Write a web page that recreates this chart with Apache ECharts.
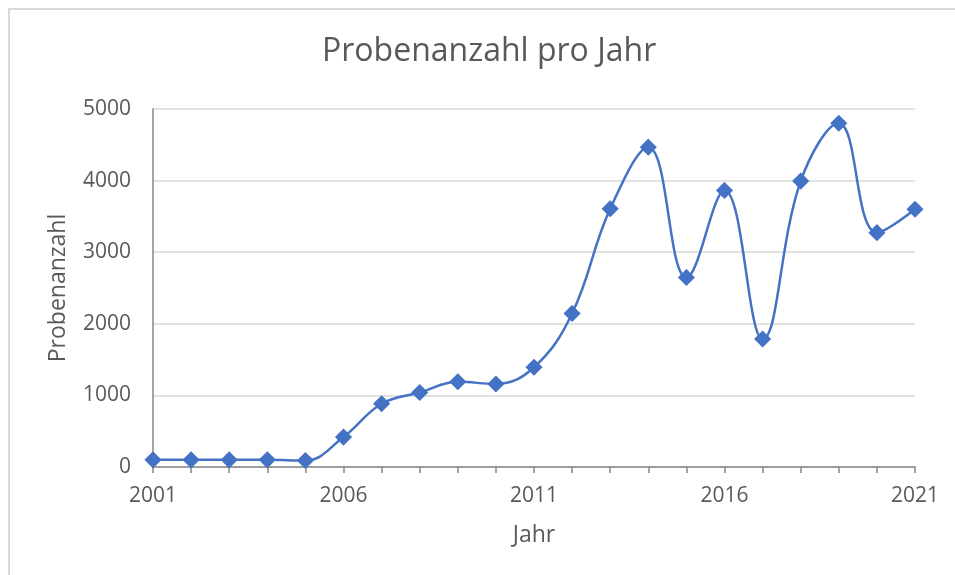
<!DOCTYPE html>
<html>
<head>
<meta charset="utf-8">
<title>Probenanzahl pro Jahr</title>
<script src="https://cdn.jsdelivr.net/npm/echarts@6/dist/echarts.min.js"></script>
<style>
  html, body { margin: 0; padding: 0; background: #fff; }
  #chart { width: 955px; height: 575px; }
</style>
</head>
<body>
<div id="chart"></div>
<script>
  // Jahre und Probenanzahl
  var years = ['2001', '2002', '2003', '2004', '2005', '2006', '2007', '2008', '2009', '2010', '2011',
    '2012', '2013', '2014', '2015', '2016', '2017', '2018', '2019', '2020', '2021'];
  var samples = [100, 100, 100, 100, 90, 418, 883, 1040, 1190, 1160, 1393,
    2145, 3607, 4467, 2646, 3863, 1788, 3993, 4801, 3273, 3599];

  var TEXT = '#595959';
  var BLUE = '#4472C4';
  var FONT = '"Open Sans", sans-serif';

  var chart = echarts.init(document.getElementById('chart'), null, { renderer: 'canvas' });

  chart.setOption({
    animation: false,
    backgroundColor: '#fff',
    title: {
      text: 'Probenanzahl pro Jahr',
      left: 317,
      top: 31,
      textStyle: { color: TEXT, fontFamily: FONT, fontSize: 32, fontWeight: 'normal' }
    },
    graphic: [
      {
        // Rahmen: nur oben und links sichtbar
        type: 'rect',
        shape: { x: 9, y: 9, width: 1000, height: 1000 },
        style: { fill: 'none', stroke: '#d9d9d9', lineWidth: 2 },
        silent: true
      }
    ],
    grid: { left: 153, right: 40, top: 109, bottom: 108 },
    xAxis: {
      type: 'category',
      data: years,
      boundaryGap: false,
      name: 'Jahr',
      nameLocation: 'middle',
      nameGap: 57,
      nameTextStyle: { color: TEXT, fontFamily: FONT, fontSize: 23 },
      axisLine: { lineStyle: { color: '#868686', width: 1.5 } },
      axisTick: { show: true, interval: 0, length: 6, lineStyle: { color: '#868686', width: 1.5 } },
      axisLabel: { interval: 4, color: TEXT, fontFamily: FONT, fontSize: 21, margin: 19 },
      splitLine: { show: false }
    },
    yAxis: {
      type: 'value',
      min: 0,
      max: 5000,
      interval: 1000,
      name: 'Probenanzahl',
      nameLocation: 'middle',
      nameGap: 83,
      nameTextStyle: { color: TEXT, fontFamily: FONT, fontSize: 23 },
      axisLine: { show: true, lineStyle: { color: '#868686', width: 1.5 } },
      axisTick: { show: false },
      axisLabel: {
        color: TEXT, fontFamily: FONT, fontSize: 21, margin: 22,
        formatter: function (v) { return String(v); }
      },
      splitLine: { lineStyle: { color: '#d9d9d9', width: 1.5 } }
    },
    series: [
      {
        type: 'line',
        data: samples,
        smooth: 0.4,
        symbol: 'diamond',
        symbolSize: 15,
        lineStyle: { color: BLUE, width: 2.5 },
        itemStyle: { color: BLUE, borderColor: BLUE, borderWidth: 1.5 }
      }
    ]
  });
</script>
</body>
</html>
